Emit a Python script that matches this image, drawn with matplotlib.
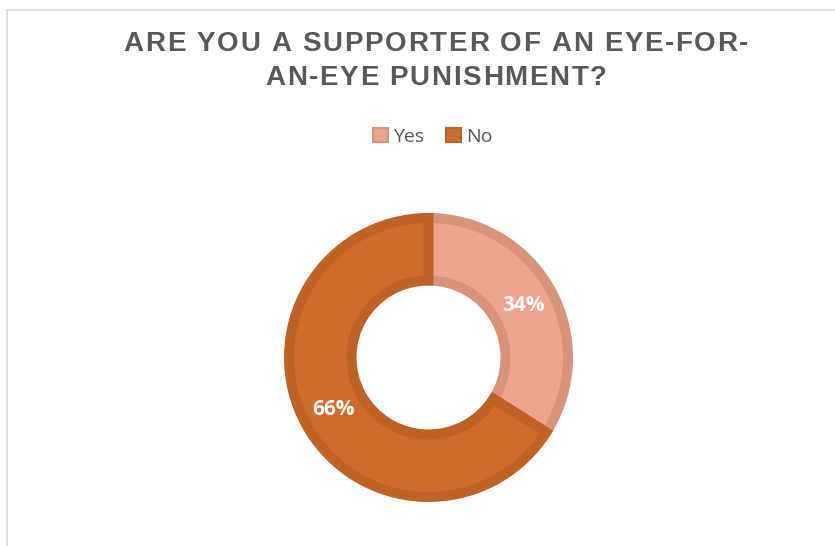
import matplotlib
matplotlib.use('Agg')
import matplotlib.pyplot as plt
from matplotlib.patches import Patch
from matplotlib.lines import Line2D
from matplotlib.font_manager import FontProperties, findfont, get_font
import numpy as np

# Survey answers
labels = ['Yes', 'No']
shares = [34, 66]
fill_colors = ['#eda48a', '#d06c2b']
edge_colors = ['#d9937a', '#bf6226']
title_lines = ['ARE YOU A SUPPORTER OF AN EYE-FOR-', 'AN-EYE PUNISHMENT?']

W, H = 835, 546
DPI = 100
fig = plt.figure(figsize=(W / DPI, H / DPI), dpi=DPI)

# chart area frame (top + left edge only visible)
fig.add_artist(Line2D([7 / W, 7 / W], [0, 1 - 10 / H], color='#d9d9d9', lw=1.2))
fig.add_artist(Line2D([7 / W, 1], [1 - 10 / H, 1 - 10 / H], color='#d9d9d9', lw=1.2))


def spaced_text(line, xc, baseline, size, tracking, **kw):
    """Centered text with extra letter spacing (pixels), one glyph at a time."""
    fp = FontProperties(family='Liberation Sans', weight='bold', size=size)
    font = get_font(findfont(fp))
    font.set_size(size, DPI)
    adv = [font.load_char(ord(c)).linearHoriAdvance / 65536 for c in line]
    total = sum(adv) + tracking * (len(line) - 1)
    x = xc - total / 2
    for c, a in zip(line, adv):
        fig.text(x / W, 1 - baseline / H, c, ha='left', va='baseline',
                 fontproperties=fp, **kw)
        x += a + tracking


# title
for line, base in zip(title_lines, [51, 85]):
    spaced_text(line, 436, base, 20, 1.7, color='#595959')

# donut placed in pixel units around its centre
cx, cy, half = 428.5, 357.5, 150
ax = fig.add_axes([(cx - half) / W, (H - cy - half) / H, 2 * half / W, 2 * half / H])
outer_r, inner_r = 139.5, 77
wedges, _ = ax.pie(shares, radius=outer_r, startangle=90, counterclock=False,
                   colors=fill_colors,
                   wedgeprops=dict(width=outer_r - inner_r, linewidth=7.2))
for w, ec in zip(wedges, edge_colors):
    w.set_edgecolor(ec)
    w.set_joinstyle('miter')

# value labels in the middle of the ring
mid_r = (144 + 72) / 2
start = 90.0
for s in shares:
    ang = np.deg2rad(start - s * 3.6 / 2)
    ax.text(mid_r * np.cos(ang), mid_r * np.sin(ang), f'{s}%', ha='center', va='center',
            fontsize=15, fontweight='bold', color='white', family='Open Sans')
    start -= s * 3.6

ax.set_xlim(-half, half)
ax.set_ylim(-half, half)
ax.set_aspect('equal')
ax.axis('off')

handles = [Patch(facecolor=f, edgecolor=e, lw=1.5) for f, e in zip(fill_colors, edge_colors)]
fig.legend(handles, labels, loc='center', bbox_to_anchor=(433 / W, 1 - 137 / H), ncol=2,
           frameon=False, handlelength=0.75, handleheight=0.75, handletextpad=0.3,
           columnspacing=1.1, prop=dict(family='Open Sans', size=14), labelcolor='#595959')

fig.savefig('out.png', dpi=DPI, facecolor='white')
